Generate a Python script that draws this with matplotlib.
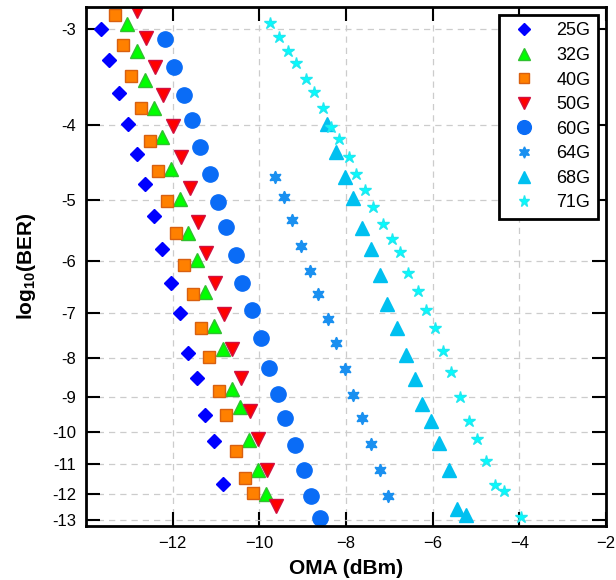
import matplotlib
matplotlib.use('Agg')
import matplotlib.pyplot as plt
import numpy as np

plt.rcParams['font.family'] = ['Liberation Sans', 'DejaVu Sans']

# OMA (dBm) and log10(BER)
oma_25 = [-13.66, -13.46, -13.23, -13.04, -12.83, -12.63, -12.43, -12.25, -12.05, -11.84,
          -11.65, -11.44, -11.25, -11.05, -10.84]
ber_25 = [-3.00, -3.29, -3.63, -3.98, -4.36, -4.77, -5.25, -5.78, -6.41, -7.00,
          -7.88, -8.50, -9.48, -10.26, -11.65]

oma_32 = [-13.05, -12.83, -12.64, -12.44, -12.24, -12.05, -11.83, -11.64, -11.44, -11.25,
          -11.04, -10.84, -10.62, -10.45, -10.25, -10.03, -9.85]
ber_32 = [-2.96, -3.20, -3.49, -3.80, -4.14, -4.56, -4.99, -5.51, -5.98, -6.57,
          -7.28, -7.79, -8.79, -9.28, -10.23, -11.19, -12.00]

oma_40 = [-13.33, -13.15, -12.96, -12.73, -12.53, -12.35, -12.14, -11.93, -11.73, -11.54,
          -11.35, -11.17, -10.94, -10.76, -10.55, -10.34, -10.15]
ber_40 = [-2.88, -3.15, -3.45, -3.80, -4.19, -4.58, -5.01, -5.51, -6.07, -6.62,
          -7.33, -7.98, -8.84, -9.50, -10.57, -11.46, -11.98]

oma_50 = [-12.82, -12.61, -12.41, -12.22, -12.00, -11.81, -11.61, -11.41, -11.22, -11.02,
          -10.82, -10.63, -10.42, -10.22, -10.02, -9.83, -9.62]
ber_50 = [-2.84, -3.08, -3.36, -3.65, -4.01, -4.39, -4.82, -5.33, -5.86, -6.40,
          -7.03, -7.79, -8.49, -9.37, -10.19, -11.19, -12.46]

oma_60 = [-12.17, -11.96, -11.75, -11.56, -11.38, -11.15, -10.96, -10.78, -10.55, -10.40,
          -10.17, -9.97, -9.78, -9.58, -9.40, -9.17, -8.98, -8.80, -8.59]
ber_60 = [-3.09, -3.36, -3.65, -3.94, -4.27, -4.63, -5.03, -5.42, -5.89, -6.41,
          -6.94, -7.55, -8.24, -8.91, -9.57, -10.37, -11.17, -12.08, -12.89]

oma_64 = [-9.63, -9.44, -9.24, -9.04, -8.83, -8.65, -8.41, -8.22, -8.02, -7.84,
          -7.63, -7.43, -7.22, -7.02]
ber_64 = [-4.66, -4.96, -5.31, -5.73, -6.18, -6.61, -7.13, -7.66, -8.27, -8.95,
          -9.57, -10.34, -11.17, -12.10]

oma_68 = [-8.43, -8.22, -8.03, -7.84, -7.63, -7.42, -7.22, -7.06, -6.83, -6.61,
          -6.41, -6.24, -6.04, -5.85, -5.62, -5.43, -5.22]
ber_68 = [-3.98, -4.33, -4.67, -4.97, -5.43, -5.78, -6.26, -6.81, -7.33, -7.94,
          -8.53, -9.19, -9.67, -10.31, -11.19, -12.55, -12.81]

oma_71 = [-9.75, -9.54, -9.33, -9.15, -8.92, -8.73, -8.54, -8.35, -8.16, -7.94,
          -7.76, -7.56, -7.37, -7.14, -6.94, -6.75, -6.56, -6.35, -6.15, -5.95,
          -5.76, -5.57, -5.36, -5.16, -4.97, -4.78, -4.57, -4.35, -3.97]
ber_71 = [-2.95, -3.07, -3.20, -3.32, -3.48, -3.62, -3.80, -4.02, -4.17, -4.39,
          -4.62, -4.85, -5.11, -5.37, -5.62, -5.84, -6.22, -6.55, -6.93, -7.33,
          -7.85, -8.35, -9.00, -9.65, -10.19, -10.89, -11.71, -11.91, -12.88]

labels = ['25G', '32G', '40G', '50G', '60G', '64G', '68G', '71G']
xs = [oma_25, oma_32, oma_40, oma_50, oma_60, oma_64, oma_68, oma_71]
ys = [ber_25, ber_32, ber_40, ber_50, ber_60, ber_64, ber_68, ber_71]

styles = [
    dict(marker='D', ms=7, color='#0000ff', mec='#0000ff'),
    dict(marker='^', ms=10, color='#00ff00', mec='#30c030'),
    dict(marker='s', ms=8, color='#ff8000', mec='#d86010'),
    dict(marker='v', ms=10, color='#ff0000', mec='#d01040'),
    dict(marker='o', ms=11, color='#0a6cf6', mec='#0a6cf6'),
    dict(marker=(6, 1, 0), ms=9, color='#1a90f0', mec='#1a90f0'),
    dict(marker='^', ms=10, color='#00c0f0', mec='#00c0f0'),
    dict(marker='*', ms=9, color='#00ffff', mec='#20e8f0'),
]


# y axis is linear in log(-log10(BER))
def fwd(v):
    return -np.log10(-np.asarray(v, dtype=float).clip(max=-1e-6))


def inv(u):
    return -10.0 ** (-np.asarray(u, dtype=float))


fig = plt.figure(figsize=(6.16, 5.8), dpi=100)
ax = fig.add_axes([86 / 616, 1 - 526 / 580, 520 / 616, 519 / 580])

for x, y, lab, st in zip(xs, ys, labels, styles):
    ax.plot(x, y, ls='none', label=lab, **st)

ax.set_yscale('function', functions=(fwd, inv))
ax.set_xlim(-14, -2)
ax.set_ylim(-13.22, -2.81)
ax.set_xticks([-12, -10, -8, -6, -4, -2])
ax.set_yticks(list(range(-3, -14, -1)))
ax.set_yticklabels([str(v) for v in range(-3, -14, -1)])
ax.minorticks_off()

ax.grid(True, ls=(0, (5, 4)), color='#cccccc', lw=0.9)
ax.tick_params(direction='in', length=10, width=1.5, labelsize=12,
               top=True, right=True, pad=7)
for sp in ax.spines.values():
    sp.set_linewidth(2)

ax.set_xlabel('OMA (dBm)', fontsize=15, fontweight='bold', labelpad=6)
ax.set_ylabel(r'log$_{\mathregular{10}}$(BER)', fontsize=15, fontweight='bold', labelpad=10)

leg = ax.legend(loc='upper right', fontsize=13, frameon=True, fancybox=False,
                borderaxespad=0.45, handletextpad=0.8, labelspacing=0.42,
                markerscale=0.9, borderpad=0.4)
leg.get_frame().set_edgecolor('black')
leg.get_frame().set_linewidth(2)
leg.get_frame().set_alpha(1)

fig.savefig('out.png', dpi=100)
